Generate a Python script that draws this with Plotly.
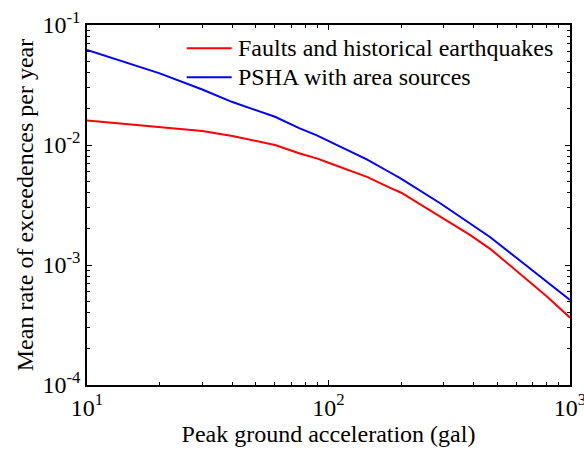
import plotly.graph_objects as go

# Hazard curves: peak ground acceleration (gal) vs mean annual rate of exceedance
pga_faults = [10, 20, 30, 40, 60, 76, 90, 100, 145, 180, 200, 290, 385, 470, 620, 800, 1000]
rate_faults = [0.0160, 0.0142, 0.0131, 0.0119, 0.0100, 0.0085, 0.0077, 0.00712, 0.0054,
               0.0044, 0.0040, 0.00253, 0.00178, 0.00135, 0.00085, 0.00055, 0.000364]

pga_psha = [10, 20, 30, 40, 60, 76, 89, 100, 144, 180, 198, 290, 385, 466, 620, 800, 1000]
rate_psha = [0.062, 0.0395, 0.029, 0.0228, 0.0172, 0.01377, 0.0121, 0.01085, 0.0076,
             0.0059, 0.0053, 0.00327, 0.00222, 0.00171, 0.00109, 0.00073, 0.00051]

series_names = ["Faults and historical earthquakes", "PSHA with area sources"]
series_colors = ["#ff0000", "#0000ff"]

x_tickvals = [10, 100, 1000]
x_ticktext = ["10<sup>1</sup>", "10<sup>2</sup>", "10<sup>3</sup>"]
y_tickvals = [1e-4, 1e-3, 1e-2, 1e-1]
y_ticktext = ["10<sup>-4</sup>", "10<sup>-3</sup>", "10<sup>-2</sup>", "10<sup>-1</sup>"]

FONT = "Liberation Serif, Times New Roman, serif"

fig = go.Figure()
fig.add_trace(go.Scatter(x=pga_faults, y=rate_faults, mode="lines", name=series_names[0],
                         line=dict(color=series_colors[0], width=2)))
fig.add_trace(go.Scatter(x=pga_psha, y=rate_psha, mode="lines", name=series_names[1],
                         line=dict(color=series_colors[1], width=2)))

axis_common = dict(
    type="log",
    tickmode="array",
    showline=True, linecolor="black", linewidth=1.5,
    mirror="ticks",
    ticks="inside", ticklen=5, tickwidth=1, tickcolor="black",
    minor=dict(ticks="inside", ticklen=3, tickwidth=1, tickcolor="black", dtick="D1", showgrid=False),
    showgrid=False, zeroline=False,
    ticklabeloverflow="allow",
    automargin=False,
    tickfont=dict(family=FONT, size=24, color="black"),
)

fig.update_xaxes(range=[1, 3], tickvals=x_tickvals, ticktext=x_ticktext,
                 title=dict(text="Peak ground acceleration (gal)",
                            font=dict(family=FONT, size=24, color="black"), standoff=4),
                 **axis_common)
fig.update_yaxes(range=[-4, -1], tickvals=y_tickvals, ticktext=y_ticktext,
                 ticklabelstandoff=0,
                 title=dict(text="Mean rate of exceedences per year",
                            font=dict(family=FONT, size=24, color="black"), standoff=2),
                 **axis_common)

# Legend drawn in the upper right of the axes
legend_rows = [0.9353, 0.8547]
for name, color, yrow in zip(series_names, series_colors, legend_rows):
    fig.add_shape(type="line", xref="paper", yref="paper", x0=0.2064, x1=0.2996, y0=yrow, y1=yrow,
                  line=dict(color=color, width=2))
    fig.add_annotation(xref="paper", yref="paper", x=0.3079, y=yrow, text=name, showarrow=False,
                       xanchor="left", yanchor="middle",
                       font=dict(family=FONT, size=24, color="black"))

fig.update_layout(
    width=584, height=450,
    margin=dict(l=87, r=14, t=25, b=65, autoexpand=False),
    paper_bgcolor="white", plot_bgcolor="white",
    showlegend=False,
    font=dict(family=FONT, size=24, color="black"),
)

fig.write_html("out.html")
